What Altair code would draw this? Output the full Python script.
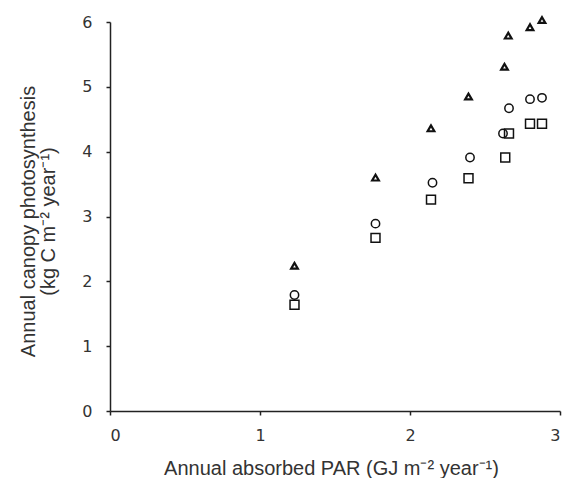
import altair as alt
import pandas as pd

# Annual absorbed PAR (GJ m-2 year-1) and canopy photosynthesis (kg C m-2 year-1)
tri_x = [1.23, 1.77, 2.14, 2.39, 2.63, 2.655, 2.80, 2.88]
tri_y = [2.24, 3.60, 4.36, 4.85, 5.31, 5.79, 5.92, 6.03]
cir_x = [1.23, 1.77, 2.15, 2.40, 2.62, 2.66, 2.80, 2.88]
cir_y = [1.79, 2.89, 3.52, 3.91, 4.28, 4.67, 4.81, 4.83]
sq_x = [1.23, 1.77, 2.14, 2.39, 2.635, 2.66, 2.80, 2.88]
sq_y = [1.64, 2.67, 3.26, 3.59, 3.91, 4.28, 4.43, 4.43]

series_names = ["triangle", "circle", "square"]
shapes = ["triangle-up", "circle", "square"]

rows = []
for name, xs, ys in zip(series_names, [tri_x, cir_x, sq_x], [tri_y, cir_y, sq_y]):
    for a, b in zip(xs, ys):
        rows.append({"series": name, "par": a, "ps": b})
df = pd.DataFrame(rows)

xenc = alt.X("par:Q", scale=alt.Scale(domain=[0, 3], nice=False, zero=True),
             axis=alt.Axis(values=[0, 1, 2, 3], title="Annual absorbed PAR (GJ m⁻² year⁻¹)",
                           titleX=221, titleY=57, titleBaseline="middle",
                           labelPadding=12, tickSize=4))
yenc = alt.Y("ps:Q", scale=alt.Scale(domain=[0, 6], nice=False),
             axis=alt.Axis(values=[0, 1, 2, 3, 4, 5, 6],
                           title=["Annual canopy photosynthesis", "(kg C m⁻² year⁻¹)"],
                           titleX=-82, titleY=199, titleAngle=270, titleAlign="center",
                           titleBaseline="middle", titleLineHeight=20,
                           labelPadding=14, tickSize=4))
shape_enc = alt.Shape("series:N", scale=alt.Scale(domain=series_names, range=shapes), legend=None)

base = alt.Chart(df).encode(x=xenc, y=yenc, shape=shape_enc)

tri = base.transform_filter(alt.datum.series == "triangle").mark_point(
    filled=False, color="#111", strokeWidth=2.2, size=45, opacity=1)
cir = base.transform_filter(alt.datum.series == "circle").mark_point(
    filled=False, color="#111", strokeWidth=1.5, size=70, opacity=1)
sq = base.transform_filter(alt.datum.series == "square").mark_point(
    filled=False, color="#111", strokeWidth=1.5, size=80, opacity=1)

chart = alt.layer(tri, cir, sq).properties(
    width=450, height=389,
    autosize=alt.AutoSizeParams(type="none"),
    padding={"left": 110, "top": 22, "right": 9, "bottom": 67},
    background="white",
).configure_view(stroke=None).configure_axis(
    grid=False, domainColor="#222", domainWidth=1.5, tickColor="#222", tickWidth=1.5,
    labelFont="DejaVu Sans", labelFontSize=16, labelColor="#333",
    titleFont="Liberation Sans", titleFontSize=20, titleFontWeight="normal", titleColor="#333",
)

chart.save("out.html", embed_options={"renderer": "svg", "actions": False})
